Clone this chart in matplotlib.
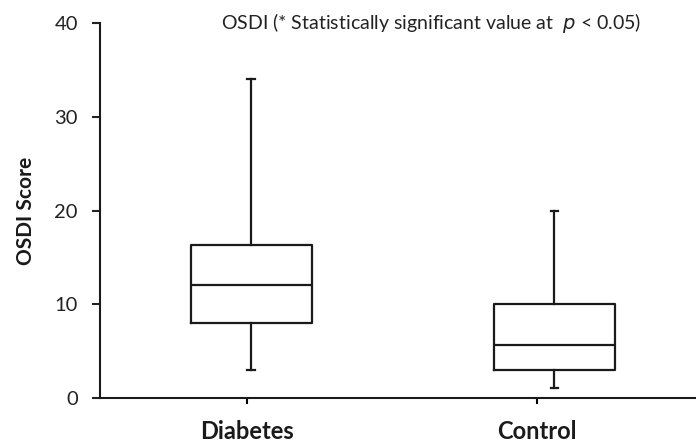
import matplotlib
import matplotlib.pyplot as plt

matplotlib.use('agg')

groups = ["Diabetes", "Control"]
whisker_low = [3.0, 1.0]
q1 = [8.0, 3.0]
median = [12.0, 5.6]
q3 = [16.3, 10.0]
whisker_high = [34.0, 20.0]

# the boxes sit slightly right of the category ticks in the original
tick_pos = [1.0, 2.0]
box_pos = [1.014, 2.059]

plt.rcParams['font.family'] = ['Lato', 'DejaVu Sans']

fig = plt.figure(figsize=(6.96, 4.43), dpi=100)
ax = fig.add_axes([0.1437, 0.1023, 0.8563, 0.8450])

stats = []
for i, g in enumerate(groups):
    stats.append({
        "label": g,
        "whislo": whisker_low[i],
        "q1": q1[i],
        "med": median[i],
        "q3": q3[i],
        "whishi": whisker_high[i],
        "fliers": [],
    })

col = "#1a1a1a"
lw = 1.6
ax.bxp(stats, positions=box_pos, widths=0.418, showfliers=False,
       boxprops=dict(color=col, linewidth=lw),
       medianprops=dict(color=col, linewidth=lw),
       whiskerprops=dict(color=col, linewidth=lw),
       capprops=dict(color=col, linewidth=lw),
       capwidths=0.025)

ax.set_xlim(0.493, 2.548)
ax.set_ylim(0, 40)
ax.set_yticks([0, 10, 20, 30, 40])
ax.set_xticks(tick_pos)
ax.set_xticklabels(groups, fontsize=17, fontweight='bold', color="#1a1a1a")
ax.tick_params(axis='y', labelsize=14.5, colors="#222222", length=6, width=1.5, pad=10)
ax.tick_params(axis='x', length=4, width=1.5, pad=12)

for s in ["top", "right"]:
    ax.spines[s].set_visible(False)
for s in ["left", "bottom"]:
    ax.spines[s].set_linewidth(1.5)
    ax.spines[s].set_color(col)

ax.set_ylabel("OSDI Score", fontsize=15, fontweight='bold', color="#1a1a1a")
ax.yaxis.set_label_coords(-0.108, 0.5)
ax.text(0.555, 1.0, r"OSDI (* Statistically significant value at  $\it{p}$ < 0.05)",
        transform=ax.transAxes, ha='center', va='center', fontsize=14, color="#222222")

fig.savefig("out.png", dpi=100)
